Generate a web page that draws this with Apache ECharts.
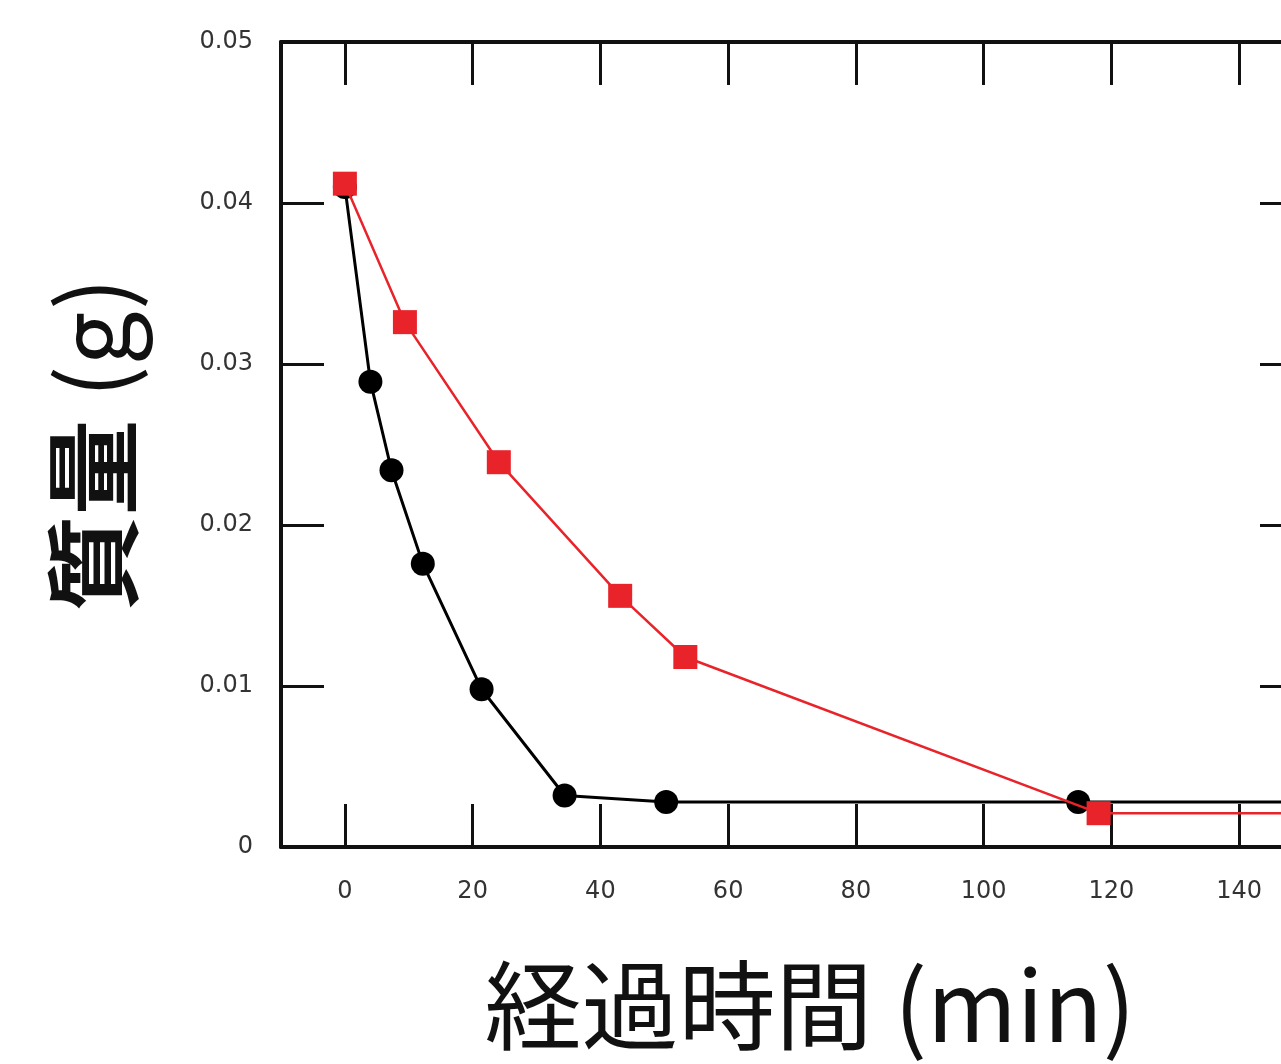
<!DOCTYPE html>
<html>
<head>
<meta charset="utf-8">
<script src="https://cdn.jsdelivr.net/npm/echarts@6/dist/echarts.min.js"></script>
<style>
html,body{margin:0;padding:0;background:#fff;}
#chart{width:1281px;height:1064px;}
</style>
</head>
<body>
<div id="chart"></div>
<script>
// Data (time in minutes, mass in g)
const blackTime = [0, 4.0, 7.3, 12.2, 21.4, 34.4, 50.3, 114.8, 180];
const blackMass = [0.0410, 0.0289, 0.0234, 0.0176, 0.0098, 0.0032, 0.0028, 0.0028, 0.0028];
const redTime = [0, 9.4, 24.1, 43.1, 53.3, 118.0, 180];
const redMass = [0.0412, 0.0326, 0.0239, 0.0156, 0.0118, 0.0021, 0.0021];
const xTicks = [0, 20, 40, 60, 80, 100, 120, 140];
const yTicks = [0, 0.01, 0.02, 0.03, 0.04, 0.05];
const xName = '経過時間 (min)';
const yNameMain = '質量';
const yNameUnit = '(g)';

const pairs = (xs, ys) => xs.map((x, i) => [x, ys[i]]);

const chart = echarts.init(document.getElementById('chart'), null, {renderer: 'canvas'});
const labelStyle = {color: '#333', fontSize: 24, fontFamily: 'DejaVu Sans'};
const axisLine = {show: true, onZero: false, lineStyle: {color: '#111', width: 4}};
const tick = {show: true, inside: true, length: 43, lineStyle: {color: '#111', width: 3}};

chart.setOption({
  backgroundColor: '#fff',
  animation: false,
  grid: {left: 281, top: 42, height: 805, width: 1022, containLabel: false, outerBoundsMode: 'none'},
  xAxis: [
    {
      type: 'value', position: 'bottom', min: -10, max: 150,
      axisLine: axisLine,
      axisTick: Object.assign({}, tick, {customValues: xTicks}),
      axisLabel: Object.assign({}, labelStyle, {margin: 33, customValues: xTicks}),
      splitLine: {show: false},
      name: xName, nameLocation: 'middle', nameGap: 108,
      nameTextStyle: {fontSize: 97, lineHeight: 100, color: '#111', fontFamily: 'Noto Sans CJK JP', fontWeight: 'normal', padding: [0, 0, 0, 36]}
    },
    {
      type: 'value', position: 'top', min: -10, max: 150,
      axisLine: axisLine,
      axisTick: Object.assign({}, tick, {customValues: xTicks}),
      axisLabel: {show: false},
      splitLine: {show: false}
    }
  ],
  yAxis: [
    {
      type: 'value', position: 'left', min: 0, max: 0.05, interval: 0.01,
      axisLine: axisLine,
      axisTick: tick,
      axisLabel: Object.assign({}, labelStyle, {margin: 28, customValues: yTicks}),
      splitLine: {show: false},
      name: '{b|' + yNameMain + '} {n|' + yNameUnit + '}', nameLocation: 'middle', nameGap: 138, nameRotate: 90,
      nameTextStyle: {
        fontSize: 96, lineHeight: 100, color: '#111', fontFamily: 'Noto Sans CJK JP',
        rich: {
          b: {fontSize: 96, lineHeight: 100, fontWeight: 'bold', color: '#111', fontFamily: 'Noto Sans CJK JP'},
          n: {fontSize: 96, lineHeight: 100, fontWeight: 'normal', color: '#111', fontFamily: 'Noto Sans CJK JP'}
        }
      }
    },
    {
      type: 'value', position: 'right', min: 0, max: 0.05, interval: 0.01,
      axisLine: axisLine,
      axisTick: tick,
      axisLabel: {show: false},
      splitLine: {show: false}
    }
  ],
  series: [
    {
      type: 'line', xAxisIndex: 0, yAxisIndex: 0,
      data: pairs(blackTime, blackMass),
      symbol: 'circle', symbolSize: 24,
      lineStyle: {color: '#000', width: 3},
      itemStyle: {color: '#000'},
      clip: true, z: 2
    },
    {
      type: 'line', xAxisIndex: 0, yAxisIndex: 0,
      data: pairs(redTime, redMass),
      symbol: 'rect', symbolSize: 24,
      lineStyle: {color: '#e8232a', width: 2.5},
      itemStyle: {color: '#e8232a'},
      clip: true, z: 3
    }
  ]
});
</script>
</body>
</html>
